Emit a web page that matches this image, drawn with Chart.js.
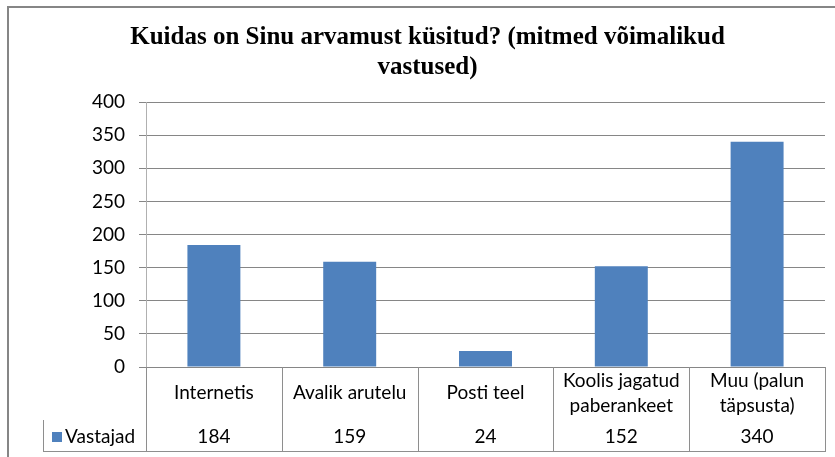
<!DOCTYPE html>
<html>
<head>
<meta charset="utf-8">
<script src="https://cdn.jsdelivr.net/npm/chart.js@4/dist/chart.umd.min.js"></script>
<style>
  html, body { margin: 0; padding: 0; background: #ffffff; }
  #wrap { width: 835px; height: 457px; position: relative; }
</style>
</head>
<body>
<div id="wrap"><canvas id="c" width="835" height="457"></canvas></div>
<script>
const titleLines = ["Kuidas on Sinu arvamust küsitud? (mitmed võimalikud", "vastused)"];
const categories = [["Internetis"], ["Avalik arutelu"], ["Posti teel"], ["Koolis jagatud", "paberankeet"], ["Muu (palun", "täpsusta)"]];
const seriesName = "Vastajad";
const values = [184, 159, 24, 152, 340];
const yMin = 0;
const yMax = 400;
const yStep = 50;

const BLUE = '#4f81bd';
const GRID = '#868686';
const TABLE_LINE = '#8e8e8e';
const FONT = 'Lato';

const frame = {
  id: 'frame',
  beforeDraw(chart) {
    const ctx = chart.ctx;
    ctx.save();
    ctx.fillStyle = '#ffffff';
    ctx.fillRect(0, 0, chart.width, chart.height);
    ctx.strokeStyle = GRID;
    ctx.lineWidth = 2;
    ctx.strokeRect(8, 7, chart.width + 20, chart.height + 20);
    ctx.restore();
  }
};

const dataTable = {
  id: 'dataTable',
  afterDraw(chart) {
    const ctx = chart.ctx;
    const xs = chart.scales.x;
    const area = chart.chartArea;
    const n = categories.length;
    const colW = (area.right - area.left) / n;
    const top = area.bottom;
    const rowSplit = 420;
    const bottom = 451;
    const legendLeft = 43;
    ctx.save();
    ctx.strokeStyle = TABLE_LINE;
    ctx.lineWidth = 1;
    ctx.beginPath();
    ctx.moveTo(legendLeft, bottom + 0.5);
    ctx.lineTo(area.right, bottom + 0.5);
    ctx.moveTo(legendLeft + 0.5, rowSplit);
    ctx.lineTo(legendLeft + 0.5, bottom + 1);
    for (let i = 0; i <= n; i++) {
      const x = Math.round(area.left + i * colW) + 0.5;
      ctx.moveTo(x, top);
      ctx.lineTo(x, bottom + 1);
    }
    ctx.stroke();

    ctx.fillStyle = '#000000';
    ctx.font = '19px ' + FONT;
    ctx.textAlign = 'center';
    ctx.textBaseline = 'middle';
    const lineH = 25;
    const catMid = 393;
    const valMid = 437;
    for (let i = 0; i < n; i++) {
      const cx = xs.getPixelForValue(i);
      const lines = categories[i];
      const startY = catMid - (lines.length - 1) * lineH / 2;
      lines.forEach((ln, k) => ctx.fillText(ln, cx, startY + k * lineH));
      ctx.fillText(String(values[i]), cx, valMid);
    }
    ctx.fillStyle = BLUE;
    ctx.fillRect(52, 432, 10, 10);
    ctx.fillStyle = '#000000';
    ctx.textAlign = 'left';
    ctx.fillText(seriesName, 65, valMid);
    ctx.restore();
  }
};

new Chart(document.getElementById('c'), {
  type: 'bar',
  data: {
    labels: categories,
    datasets: [{
      label: seriesName,
      data: values,
      backgroundColor: BLUE,
      borderWidth: 0,
      barPercentage: 0.39,
      categoryPercentage: 1.0
    }]
  },
  options: {
    responsive: false,
    animation: false,
    devicePixelRatio: 1,
    layout: { padding: { left: 30, right: 10, top: 0, bottom: 90 } },
    plugins: {
      legend: { display: false },
      tooltip: { enabled: false },
      title: {
        display: true,
        text: titleLines,
        color: '#000000',
        font: { family: 'Liberation Serif', size: 25, weight: 'bold', lineHeight: 30 / 25 },
        padding: { top: 23, bottom: 19 }
      }
    },
    scales: {
      x: {
        display: false,
        grid: { display: false }
      },
      y: {
        min: yMin,
        max: yMax,
        ticks: {
          stepSize: yStep,
          color: '#000000',
          font: { family: FONT, size: 19 },
          padding: 14
        },
        grid: {
          color: GRID,
          tickLength: 7,
          drawTicks: true
        },
        border: { color: '#b0b0b0', width: 1 },
        afterFit(scale) { scale.width = 116; }
      }
    }
  },
  plugins: [frame, dataTable]
});
</script>
</body>
</html>
